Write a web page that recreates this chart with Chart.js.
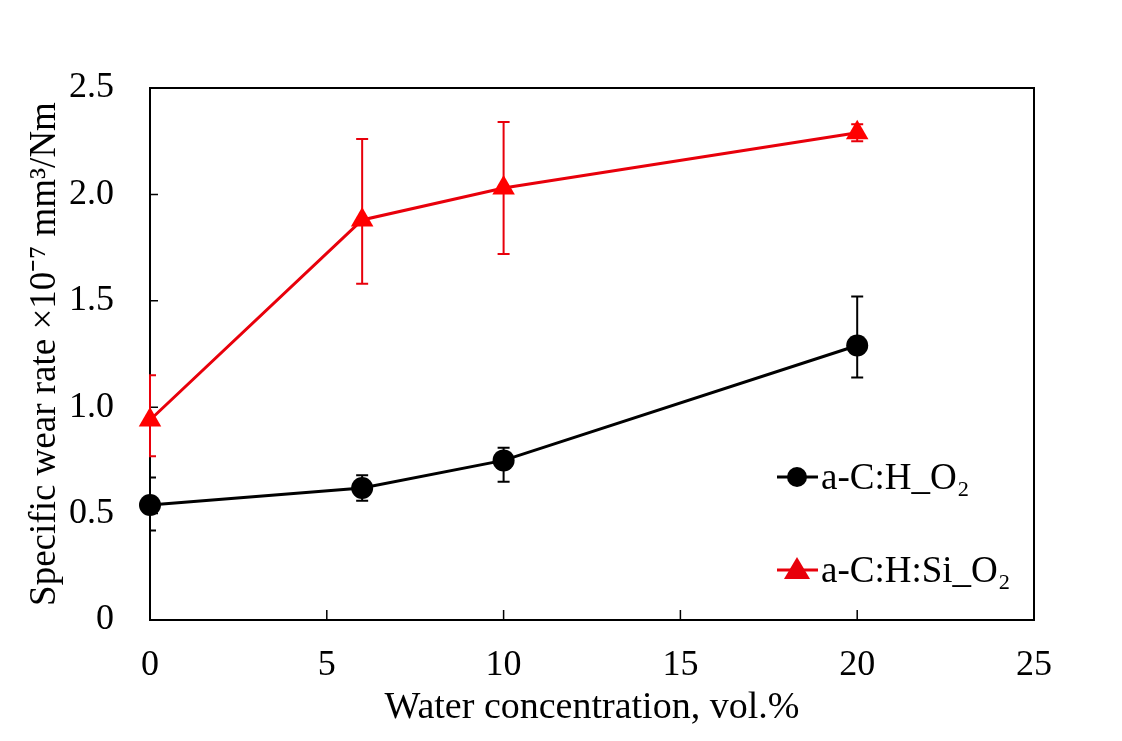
<!DOCTYPE html>
<html>
<head>
<meta charset="utf-8">
<script src="https://cdn.jsdelivr.net/npm/chart.js@4"></script>
<style>
  body { margin: 0; background: #fff; }
  #wrap { width: 1122px; height: 741px; }
</style>
</head>
<body>
<div id="wrap"><canvas id="wearChart" width="1122" height="741"></canvas></div>
<script>
// water concentration, vol.%
const water = [0, 6, 10, 20];

// specific wear rate x1e-7 mm3/Nm
const wearCH = [0.54, 0.62, 0.75, 1.29];
const wearCHSi = [0.94, 1.88, 2.03, 2.29];

// error bar ends
const chHigh = [0.67, 0.68, 0.81, 1.52];
const chLow = [0.42, 0.56, 0.65, 1.14];
const chsiHigh = [1.15, 2.26, 2.34, 2.33];
const chsiLow = [0.77, 1.58, 1.72, 2.25];

const seriesNames = ['a-C:H_O\u2082', 'a-C:H:Si_O\u2082'];
const yTickLabels = ['0', '0.5', '1.0', '1.5', '2.0', '2.5'];

const font = 'Liberation Serif';
const RED = '#e8000b';

function points(vals) {
  return water.map((w, i) => ({ x: w, y: vals[i] }));
}

// box + inward ticks, drawn first so error bars sit on top of the axis
const frame = {
  id: 'frame',
  beforeDatasetsDraw(chart) {
    const { ctx, chartArea: a, scales } = chart;
    ctx.save();
    ctx.strokeStyle = '#000';
    ctx.lineWidth = 2;
    ctx.strokeRect(a.left, a.top, a.right - a.left, a.bottom - a.top);
    ctx.lineWidth = 1.5;
    ctx.beginPath();
    scales.y.ticks.forEach(t => {
      const y = scales.y.getPixelForValue(t.value);
      ctx.moveTo(a.left, y); ctx.lineTo(a.left + 8, y);
    });
    scales.x.ticks.forEach(t => {
      const x = scales.x.getPixelForValue(t.value);
      ctx.moveTo(x, a.bottom); ctx.lineTo(x, a.bottom - 10);
    });
    ctx.stroke();
    ctx.restore();
  }
};

const errorBars = {
  id: 'errorBars',
  beforeDatasetsDraw(chart) {
    const { ctx, chartArea, scales } = chart;
    const sets = [
      { hi: chHigh, lo: chLow, color: '#000' },
      { hi: chsiHigh, lo: chsiLow, color: RED }
    ];
    ctx.save();
    ctx.beginPath();
    ctx.rect(chartArea.left - 1, chartArea.top, chartArea.right - chartArea.left + 1, chartArea.bottom - chartArea.top);
    ctx.clip();
    ctx.lineWidth = 2;
    sets.forEach(s => {
      ctx.strokeStyle = s.color;
      water.forEach((w, i) => {
        const x = scales.x.getPixelForValue(w);
        const y1 = scales.y.getPixelForValue(s.hi[i]);
        const y2 = scales.y.getPixelForValue(s.lo[i]);
        ctx.beginPath();
        ctx.moveTo(x, y1); ctx.lineTo(x, y2);
        ctx.moveTo(x - 6, y1); ctx.lineTo(x + 6, y1);
        ctx.moveTo(x - 6, y2); ctx.lineTo(x + 6, y2);
        ctx.stroke();
      });
    });
    ctx.restore();
  }
};

const legendBox = {
  id: 'legendBox',
  afterDatasetsDraw(chart) {
    const ctx = chart.ctx;
    const items = [
      { y: 477, color: '#000', style: 'circle' },
      { y: 570, color: RED, style: 'triangle' }
    ];
    ctx.save();
    items.forEach((it, i) => {
      ctx.strokeStyle = it.color;
      ctx.lineWidth = 3;
      ctx.beginPath();
      ctx.moveTo(777, it.y); ctx.lineTo(818, it.y);
      ctx.stroke();
      ctx.fillStyle = it.color;
      ctx.beginPath();
      if (it.style === 'circle') {
        ctx.arc(797, it.y, 10, 0, Math.PI * 2);
      } else {
        ctx.moveTo(797, it.y - 13);
        ctx.lineTo(810, it.y + 9);
        ctx.lineTo(784, it.y + 9);
        ctx.closePath();
      }
      ctx.fill();
      ctx.fillStyle = '#000';
      ctx.font = '37px "' + font + '"';
      ctx.textBaseline = 'middle';
      ctx.textAlign = 'left';
      ctx.fillText(seriesNames[i], 821, it.y + 2);
    });
    ctx.restore();
  }
};

new Chart(document.getElementById('wearChart'), {
  type: 'line',
  data: {
    datasets: [
      {
        label: seriesNames[0],
        data: points(wearCH),
        borderColor: '#000',
        backgroundColor: '#000',
        borderWidth: 3,
        pointStyle: 'circle',
        pointRadius: 11,
        pointBorderWidth: 0,
        clip: false
      },
      {
        label: seriesNames[1],
        data: points(wearCHSi),
        borderColor: RED,
        backgroundColor: '#ff0000',
        borderWidth: 3,
        pointStyle: 'triangle',
        pointRadius: 13,
        pointBorderWidth: 0,
        clip: false
      }
    ]
  },
  options: {
    responsive: false,
    animation: false,
    layout: { padding: { top: 88, right: 88, left: 0, bottom: 0 } },
    plugins: {
      legend: { display: false },
      tooltip: { enabled: false }
    },
    scales: {
      x: {
        type: 'linear',
        min: 0,
        max: 25,
        grid: { display: false },
        border: { display: false },
        ticks: {
          stepSize: 5,
          color: '#000',
          padding: 16,
          maxRotation: 0,
          font: { family: font, size: 36 }
        },
        title: {
          display: true,
          text: 'Water concentration, vol.%',
          color: '#000',
          font: { family: font, size: 38 },
          padding: { top: 0, bottom: 10 }
        },
        afterFit(scale) { scale.height = 121; }
      },
      y: {
        min: 0,
        max: 2.5,
        grid: { display: false },
        border: { display: false },
        ticks: {
          stepSize: 0.5,
          color: '#000',
          padding: 28,
          font: { family: font, size: 36 },
          callback: (v, i) => yTickLabels[i]
        },
        title: {
          display: true,
          text: 'Specific wear rate \u00d710\u207b\u2077 mm\u00b3/Nm',
          color: '#000',
          font: { family: font, size: 37 },
          padding: { top: 23, bottom: 0 }
        },
        afterFit(scale) { scale.width = 150; }
      }
    }
  },
  plugins: [frame, errorBars, legendBox]
});
</script>
</body>
</html>
